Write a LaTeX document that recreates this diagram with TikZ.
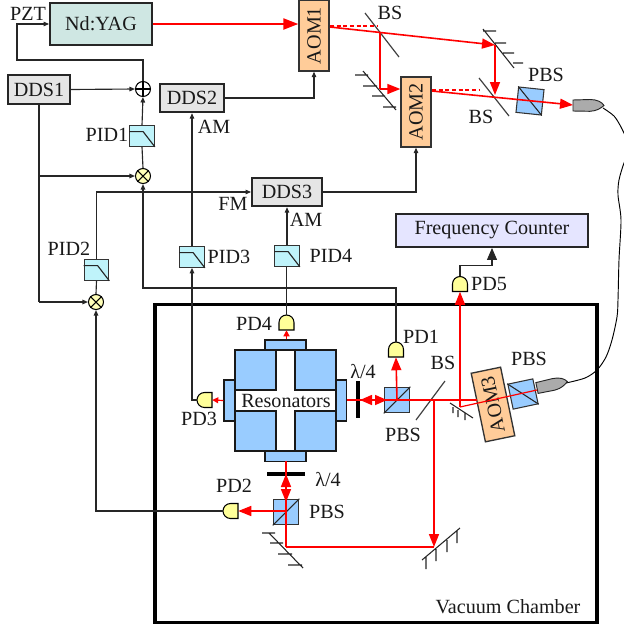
\documentclass[tikz,border=0pt]{standalone}
\usepackage{fontspec}
\setmainfont{Liberation Serif}
\usetikzlibrary{arrows.meta}
\definecolor{beam}{HTML}{FF0000}
\definecolor{blueb}{HTML}{99CCFF}
\definecolor{aom}{HTML}{FFCC99}
\definecolor{pdy}{HTML}{FFFF99}
\definecolor{pidc}{HTML}{BFF3FA}
\definecolor{wire}{HTML}{262626}
\definecolor{yagc}{HTML}{CFE7E3}
\tikzset{
  x=0.75pt,y=-0.75pt,
  every node/.style={font=\fontsize{15.1}{15}\selectfont,inner sep=0pt,text=black!90},
  boxn/.style={draw=black!85,line width=1.4pt,minimum width=#1*0.75pt},
  ddsbox/.style={boxn=#1,fill=black!10,minimum height=28.5*0.75pt},
  aombox/.style={draw=black!80,line width=1pt,fill=aom,minimum width=30*0.75pt,minimum height=70*0.75pt},
  pidbox/.style={draw=black!80,line width=0.9pt,fill=pidc,minimum width=24.5*0.75pt,minimum height=20.5*0.75pt},
  mixer/.style={circle,draw=black,line width=0.8pt,minimum size=15*0.75pt},
  cube/.style={draw=black!80,line width=0.8pt,fill=blueb,minimum size=25.5*0.75pt},
  block/.style={draw=black!90,line width=0.9pt,fill=blueb},
  pdmark/.style={minimum size=15*0.75pt},
  pdshape/.style={draw=black,line width=0.8pt,fill=pdy},
  wirel/.style={draw=wire,line width=0.85pt},
  wa/.style={wirel,-{Triangle[length=5.5*0.75pt,width=4.5*0.75pt]}},
  rb/.style={draw=beam,line width=1.2pt},
  rbthin/.style={draw=beam,line width=0.9pt},
  ra/.style={rb,-{Triangle[length=13*0.75pt,width=10*0.75pt]}},
  rasmall/.style={draw=beam,line width=0.9pt,-{Triangle[length=6*0.75pt,width=6*0.75pt]}},
  mirror/.style={draw=black!85,line width=0.8pt},
  bsline/.style={draw=black!75,line width=0.9pt},
  waveplate/.style={draw=black,line width=2.4pt},
}
% PD: D-shape, flat side at the beam, dome pointing away from it
\newcommand{\PDnode}[4]{% name, x, y, rotation of the dome (0 = up)
  \node[pdmark] (#1) at (#2,#3) {};
  \draw[pdshape,shift={(#2,#3)},rotate=#4] (-7.5,7.5) -- (-7.5,0) arc[start angle=180,end angle=0,radius=7.5*0.75pt] -- (7.5,7.5) -- cycle;
}
\newcommand{\PIDnode}[3]{%
  \node[pidbox] (#1) at (#2,#3) {};
  \draw[draw=black!85,line width=0.85pt] (#1.north west) ++(0,6.5) -- ++(14,0) -- (#1.south east);
}
\newcommand{\CouplerShape}[3]{%
  \draw[draw=black!85,line width=0.7pt,fill=black!33,shift={(#1,#2)},rotate=#3] (0,-5.5) -- (17,-6) .. controls (24,-6) and (29,-3.5) .. (31,0) .. controls (28,2.5) and (24,5.5) .. (17,5.8) -- (0,5.5) -- cycle;
}
\begin{document}
\begin{tikzpicture}
\useasboundingbox (0,0) rectangle (624,626);
% vacuum chamber
\node[draw=black,line width=2.3pt,minimum width=442*0.75pt,minimum height=318*0.75pt] (chamber) at (376,463.5) {};
\node (tvac) at (508,607) {Vacuum Chamber};
% fibre
\draw[draw=black,line width=0.7pt] plot[smooth] coordinates {(603,108) (614,116) (621,127) (627,140) (630,150) (624,163) (619,180) (618,195) (621,220) (619,260) (618,300) (617,317) (612,340) (606,357) (597,370) (585,378) (566,383)};
% boxes
\node[boxn=102,minimum height=42*0.75pt,fill=yagc] (yag) at (101,24) {Nd:YAG};
\node[ddsbox=62] (dds1) at (39,89.5) {DDS1};
\node[ddsbox=64] (dds2) at (192,98) {DDS2};
\node[ddsbox=70] (dds3) at (287,192) {DDS3};
\node[aombox,minimum height=71*0.75pt] (aom1) at (314,35.5) {\rotatebox{90}{AOM1}};
\node[aombox] (aom2) at (416,112) {\rotatebox{90}{AOM2}};
\node[aombox,rotate=11.7] (aom3) at (493,404.5) {\rotatebox{90}{AOM3}};
\node[boxn=192,minimum height=33*0.75pt,fill=blue!10] (fc) at (492,230.5) {Frequency Counter};
% mixers
\node[mixer,fill=white] (sum) at (143,89) {};
\draw[line width=0.8pt] (sum.north)--(sum.south) (sum.west)--(sum.east);
\node[mixer,fill=pdy!70] (mix1) at (143,176) {};
\draw[line width=0.8pt] (mix1.45)--(mix1.225) (mix1.135)--(mix1.315);
\node[mixer,fill=pdy!70] (mix2) at (96,302) {};
\draw[line width=0.8pt] (mix2.45)--(mix2.225) (mix2.135)--(mix2.315);
% PID filters
\PIDnode{pid1}{142}{136}
\PIDnode{pid2}{96.5}{270}
\PIDnode{pid3}{192}{257}
\PIDnode{pid4}{287}{256}
% resonators
\node[block,minimum width=41*0.75pt,minimum height=10*0.75pt] (mtop) at (285.5,345) {};
\node[block,minimum width=41*0.75pt,minimum height=10*0.75pt] (mbot) at (285.5,456.5) {};
\node[block,minimum width=11*0.75pt,minimum height=41*0.75pt] (mleft) at (229.5,400.5) {};
\node[block,minimum width=11*0.75pt,minimum height=41*0.75pt] (mright) at (341,400.5) {};
\node[draw=black!90,line width=0.9pt,fill=white,minimum width=101*0.75pt,minimum height=101*0.75pt] (res) at (285.5,400.5) {};
\node[block,minimum width=41*0.75pt,minimum height=40*0.75pt] at (255.5,370) {};
\node[block,minimum width=41*0.75pt,minimum height=40*0.75pt] at (315.5,370) {};
\node[block,minimum width=41*0.75pt,minimum height=40*0.75pt] at (255.5,431) {};
\node[block,minimum width=41*0.75pt,minimum height=40*0.75pt] at (315.5,431) {};
\node at (286,401) {Resonators};
% cubes
\node[cube,rotate=-6] (pbs0) at (530,101) {};
\draw[line width=0.8pt,draw=black!85] (pbs0.north west)--(pbs0.south east);
\node[cube] (pbs1) at (397,400) {};
\draw[line width=0.8pt,draw=black!85] (pbs1.south west)--(pbs1.north east);
\node[cube] (pbs2) at (286,512) {};
\draw[line width=0.8pt,draw=black!85] (pbs2.south west)--(pbs2.north east);
\node[cube,rotate=12] (pbs3) at (523,394) {};
\draw[line width=0.8pt,draw=black!85] (pbs3.north west)--(pbs3.south east);
% photodiodes
\PDnode{pd1}{396}{349.5}{0}
\PDnode{pd2}{230.5}{511}{90}
\PDnode{pd3}{204.5}{400}{90}
\PDnode{pd4}{286.5}{322.5}{0}
\PDnode{pd5}{460}{284}{0}
% couplers
\CouplerShape{573}{105.5}{0}
\CouplerShape{537}{388}{12}
% wires
\draw[wa] (sum.north) -- (143,60) -- (17,60) -- (17,24) -- (yag.west);
\draw[wa] (dds1.east) -- (sum.west);
\draw[wa] (pid1.north) -- (sum.south);
\draw[wirel] (mix1.north) -- (pid1.south);
\draw[wirel] (dds1.south) -- (39,302);
\draw[wa] (39,176) -- (mix1.west);
\draw[wa] (39,302) -- (mix2.west);
\draw[wirel] (mix2.north) -- (pid2.south);
\draw[wa] (pid2.north) -- (96.5,192) -- (dds3.west);
\draw[wa] (396,342) -- (396,288) -- (143,288) -- (mix1.south);
\draw[wa] (dds2.east) -- (314,98) -- (aom1.south);
\draw[wa] (dds3.east) -- (416,192) -- (aom2.south);
\draw[wa] (pid3.north) -- (dds2.south);
\draw[wa] (pd3.west) -- (192,400) -- (pid3.south);
\draw[wa] (pid4.north) -- (dds3.south -| pid4.north);
\draw[wirel] (pd4.north) -- (pd4.north |- pid4.south);
\draw[wa] (pd2.west) -- (96,511) -- (mix2.south);
\draw[wirel,-{Triangle[length=12*0.75pt,width=10*0.75pt]}] (pd5.north) -- (460,265.5) -- (492,265.5) -- (fc.south);
% optical elements: beam splitters
\draw[bsline] (365,13) -- (399,57);
\draw[bsline] (479,78) -- (509,116);
\draw[bsline] (416,420) -- (445,381);
% mirrors
\draw[mirror] (363,71) -- (396,110) (355,75)--(368,75) (363,86)--(377,86) (372,96)--(385,96) (383,107)--(396,107);
\draw[mirror] (483,29) -- (514,68) (483,31)--(496,31) (495,43)--(506,43) (503,53)--(514,53) (513,63)--(523,63);
\draw[mirror] (450,403) -- (473,418) (453,407)--(453,413) (458,410)--(458,417) (465,413)--(465,420);
\draw[mirror] (422,560) -- (460,528) (426,557)--(426,569) (436,549)--(436,561) (447,540)--(447,552) (457,531)--(457,543);
\draw[mirror] (269,533) -- (303,568) (262,533)--(275,533) (270,543)--(283,543) (278,554)--(292,554) (288,565)--(302,565);
% wave plates
\draw[waveplate] (358,381) -- (358,418);
\draw[waveplate] (267,474) -- (305,474);
% beams
\coordinate (sa) at (380,33);
\coordinate (mr) at (495,45);
\coordinate (pbc) at (397,400);
\coordinate (sc) at (434,400);
\coordinate (md) at (434,547);
\coordinate (me) at (286,547);
\draw[rb,line width=1.6pt,-{Triangle[length=15*0.75pt,width=11*0.75pt]}] (yag.east) -- (aom1.west |- yag.east);
\draw[ra] (330,27) -- (mr);
\draw[rb,line width=1.5pt,dash pattern=on 3pt off 2pt] (330,26) -- (378,26);
\draw[rb] (sa) -- (380,89);
\draw[ra] (380,89) -- (aom2.west |- 380,89);
\draw[ra] (mr) -- (495,95);
\draw[rb,line width=1.5pt,dash pattern=on 3pt off 2pt] (432,90) -- (480,90);
\draw[ra] (432,91) -- (573,105);
\draw[rbthin] (537,390) -- (460,407);
\draw[rb] (460,407) -- (460,300);
\draw[rb,-{Triangle[length=13*0.75pt,width=10*0.75pt]}] (460,310) -- (pd5.south);
\draw[rb] (477,400) -- (347,400);
\draw[rb,-{Triangle[length=12*0.75pt,width=10*0.75pt]}] (372,400) -- (360,400);
\draw[rb,-{Triangle[length=12*0.75pt,width=10*0.75pt]}] (375,400) -- (387,400);
\draw[ra] (pbc) -- (pd1.south);
\draw[ra] (sc) -- (md);
\draw[rb] (md) -- (me);
\draw[rb] (me) -- (286,461);
\draw[rb,-{Triangle[length=13*0.75pt,width=10*0.75pt]}] (286,488) -- (286,474);
\draw[rb,-{Triangle[length=13*0.75pt,width=10*0.75pt]}] (286,488) -- (286,502);
\draw[ra] (286,511) -- (pd2.east);
\draw[rasmall] (mleft.west) -- (pd3.east);
\draw[rasmall] (mtop.north -| pd4.south) -- (pd4.south);
% labels
\node (tpzt) at (28,14) {PZT};
\node (tpid1) at (107,135) {PID1};
\node (tpid2) at (69,249) {PID2};
\node (tpid3) at (229,257) {PID3};
\node (tpid4) at (331,256) {PID4};
\node (tam1) at (214,127) {AM};
\node (tfm) at (233,204) {FM};
\node (tam2) at (306,220) {AM};
\node (tbs1) at (390,13) {BS};
\node (tbs2) at (481,117) {BS};
\node (tbs3) at (443,363) {BS};
\node (tpbs0) at (546,75) {PBS};
\node (tpbs1) at (403,435) {PBS};
\node (tpbs2) at (327,512) {PBS};
\node (tpbs3) at (529,359) {PBS};
\node (tpd1) at (421,337) {PD1};
\node (tpd2) at (234,486) {PD2};
\node (tpd3) at (199,419) {PD3};
\node (tpd4) at (254,324) {PD4};
\node (tpd5) at (489,284) {PD5};
\node (tl1) at (363,372) {λ/4};
\node (tl2) at (328,480) {λ/4};
\end{tikzpicture}
\end{document}
